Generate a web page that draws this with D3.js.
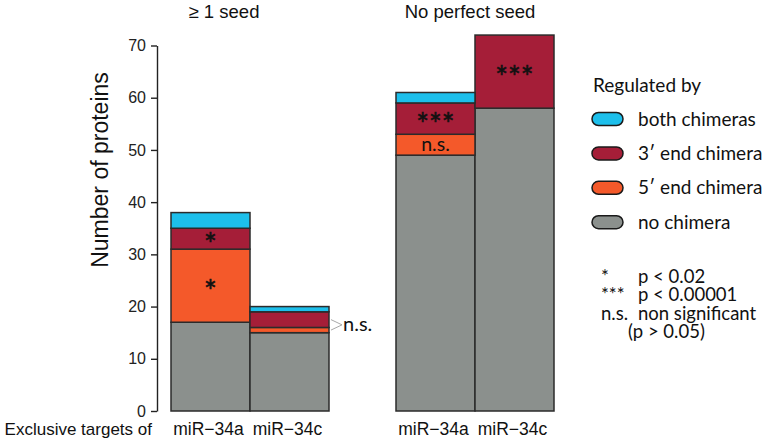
<!DOCTYPE html>
<html><head><meta charset="utf-8">
<script src="https://cdn.jsdelivr.net/npm/d3@7/dist/d3.min.js"></script>
<style>body{margin:0;background:#fff}svg{display:block}</style>
</head><body>
<svg id="c" width="768" height="446"></svg>
<script>
// ---- data ----
const groups = ["≥ 1 seed", "No perfect seed"];
const mirnas = ["miR\u221234a", "miR\u221234c"];
const barGroup = [0, 0, 1, 1];
const barMir = [0, 1, 0, 1];
const seriesKeys = ["none", "five", "three", "both"];
const seriesLabels = ["no chimera", "5\u2032 end chimera", "3\u2032 end chimera", "both chimeras"];
const noChimera = [17, 15, 49, 58];
const fivePrime = [14, 1, 4, 0];
const threePrime = [4, 3, 6, 14];
const bothChimeras = [3, 1, 2, 0];
const sigFive = ["*", "", "n.s.", ""];
const sigThree = ["*", "", "***", "***"];
const yTicks = [0, 10, 20, 30, 40, 50, 60, 70];
const xAxisLead = "Exclusive targets of";
const yTitle = "Number of proteins";
const legendTitle = "Regulated by";
const noteSymbols = ["*", "***", "n.s.", ""];
const noteTexts = ["p < 0.02", "p < 0.00001", "non significant", "(p > 0.05)"];
const colors = {none: "#8b908d", five: "#f4592a", three: "#a51e38", both: "#1dbfeb"};

// ---- chart ----
const svg = d3.select("#c");
const sans = "'Liberation Sans', Arial, sans-serif";
const hum = "Lato, 'Open Sans', sans-serif";

const y = d3.scaleLinear().domain([0, 70]).range([411, 45.5]);
const xGroup = d3.scaleBand().domain(d3.range(groups.length)).range([171, 554]).paddingInner(67 / 225).paddingOuter(0);
const xInner = d3.scaleBand().domain(d3.range(mirnas.length)).range([0, xGroup.bandwidth()]).padding(0);

const rows = noChimera.map((v, i) => ({none: v, five: fivePrime[i], three: threePrime[i], both: bothChimeras[i], i}));
const stacked = d3.stack().keys(seriesKeys)(rows);
const bx = i => xGroup(barGroup[i]) + xInner(barMir[i]);
const bw = xInner.bandwidth();

// bars
const layers = svg.append("g").selectAll("g").data(stacked).join("g").attr("fill", d => colors[d.key]);
layers.selectAll("rect").data(d => d.filter(s => s[1] > s[0])).join("rect")
  .attr("x", d => bx(d.data.i))
  .attr("y", d => y(d[1]))
  .attr("width", bw)
  .attr("height", d => y(d[0]) - y(d[1]))
  .attr("stroke", "#2b2b2b").attr("stroke-width", 1.5);

// axis
const ax = svg.append("g").attr("transform", "translate(157,0)")
  .call(d3.axisLeft(y).tickValues(yTicks).tickSize(6).tickSizeOuter(0).tickPadding(5));
ax.select(".domain").attr("stroke", "#222").attr("stroke-width", 1.4);
ax.selectAll(".tick line").attr("stroke", "#222").attr("stroke-width", 1.4);
ax.selectAll(".tick text").attr("font-family", sans).attr("font-size", 16).attr("fill", "#222");

// y title
svg.append("text").attr("transform", "translate(108,170) rotate(-90)")
  .attr("text-anchor", "middle").attr("font-family", sans).attr("font-size", 23).attr("fill", "#111").text(yTitle);

// group titles
const titleShift = [-26, -5];
groups.forEach((g, k) => {
  svg.append("text").attr("x", xGroup(k) + xGroup.bandwidth() / 2 + titleShift[k]).attr("y", 18)
    .attr("text-anchor", "middle").attr("font-family", sans).attr("font-size", 18.5).attr("fill", "#111").text(g);
});

// bar labels
barGroup.forEach((g, i) => {
  svg.append("text").attr("x", bx(i) + bw / 2 - 2).attr("y", 435)
    .attr("text-anchor", "middle").attr("font-family", sans).attr("font-size", 17.5).attr("fill", "#111").text(mirnas[barMir[i]]);
});
svg.append("text").attr("x", 152).attr("y", 435).attr("text-anchor", "end")
  .attr("font-family", sans).attr("font-size", 17).attr("fill", "#111").text(xAxisLead);

// significance marks inside bars
function mark(i, lo, hi, s) {
  if (!s) return;
  const cx = bx(i) + bw / 2, cy = (y(lo) + y(hi)) / 2;
  if (s[0] === "*") {
    svg.append("text").attr("x", cx).attr("y", cy + 16).attr("text-anchor", "middle")
      .attr("font-family", hum).attr("font-size", 30).attr("fill", "#111")
      .attr("stroke", "#111").attr("stroke-width", 0.6).text(s);
  } else {
    svg.append("text").attr("x", cx).attr("y", cy + 6.5).attr("text-anchor", "middle")
      .attr("font-family", hum).attr("font-size", 19.5).attr("fill", "#111").text(s);
  }
}
rows.forEach((r, i) => {
  mark(i, r.none, r.none + r.five, sigFive[i]);
  mark(i, r.none + r.five, r.none + r.five + r.three, sigThree[i]);
});

// n.s. bracket beside second bar
{
  const r = rows[1];
  const x0 = bx(1) + bw + 2;
  const yTop = (y(r.none + r.five) + y(r.none + r.five + r.three)) / 2;
  const yBot = (y(r.none) + y(r.none + r.five)) / 2;
  const yMid = (yTop + yBot) / 2;
  svg.append("path").attr("d", `M${x0},${yTop}L${x0 + 11},${yMid}L${x0},${yBot}`)
    .attr("fill", "none").attr("stroke", "#a8a8a8").attr("stroke-width", 1);
  svg.append("text").attr("x", x0 + 12).attr("y", yMid + 6.5).attr("font-family", hum)
    .attr("font-size", 20).attr("fill", "#111").text("n.s.");
}

// legend
svg.append("text").attr("x", 593).attr("y", 92).attr("font-family", hum).attr("font-size", 19).attr("fill", "#111").text(legendTitle);
const legOrder = [3, 2, 1, 0];
legOrder.forEach((s, k) => {
  const cy = 119 + k * 34.4;
  svg.append("rect").attr("x", 592).attr("y", cy - 6.5).attr("width", 31).attr("height", 13).attr("rx", 6.5)
    .attr("fill", colors[seriesKeys[s]]).attr("stroke", "#1a1a1a").attr("stroke-width", 1.5);
  svg.append("text").attr("x", 638).attr("y", cy + 6.5).attr("font-family", hum).attr("font-size", 19)
    .attr("fill", "#111").text(seriesLabels[s]);
});

// p-value notes
noteTexts.forEach((t, k) => {
  const by = 283 + k * 18.3;
  if (noteSymbols[k]) svg.append("text").attr("x", 601).attr("y", by).attr("font-family", hum)
    .attr("font-size", 18.5).attr("fill", "#111").text(noteSymbols[k]);
  svg.append("text").attr("x", k === 3 ? 628 : 638).attr("y", by).attr("font-family", hum)
    .attr("font-size", 18.5).attr("fill", "#111").text(t);
});
</script>
</body></html>
